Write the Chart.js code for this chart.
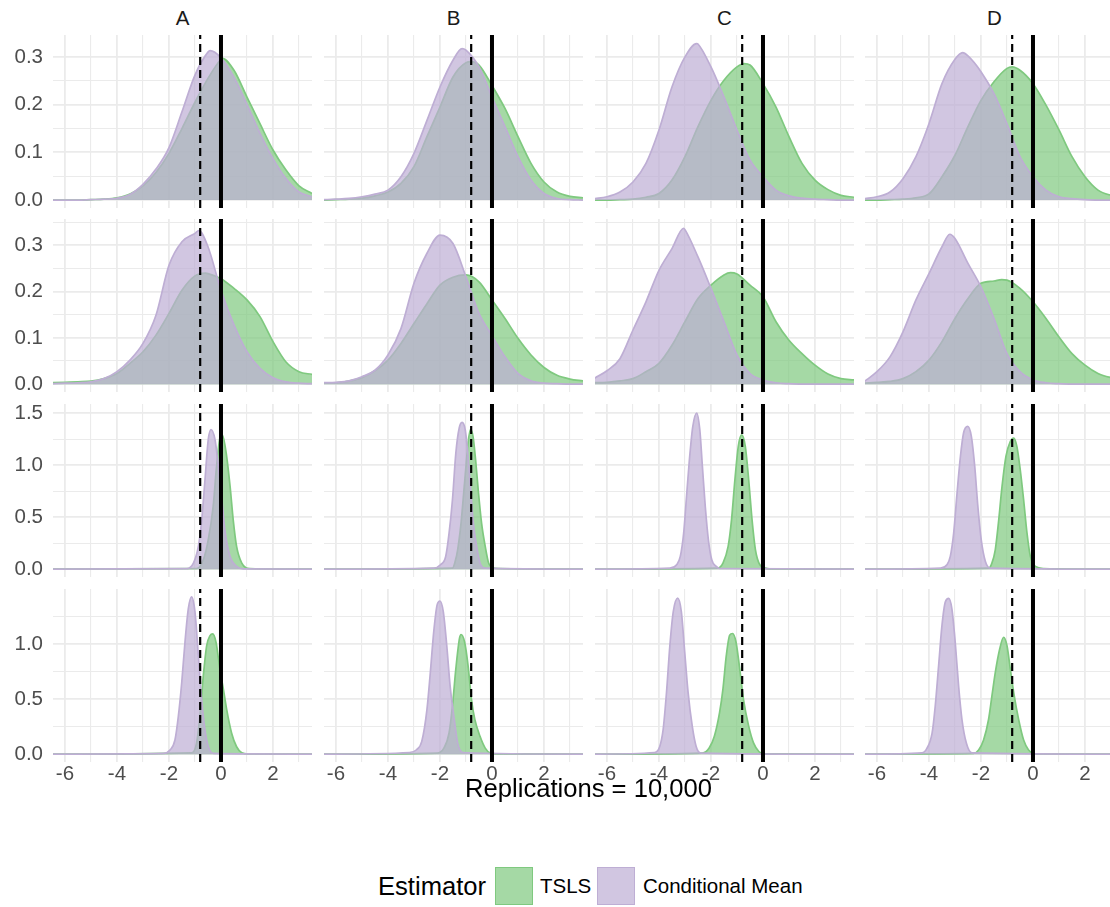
<!DOCTYPE html>
<html>
<head>
<meta charset="utf-8">
<script src="https://cdn.jsdelivr.net/npm/chart.js@4.4.1/dist/chart.umd.min.js"></script>
<style>
html,body{margin:0;padding:0;background:#fff;}
#wrap{position:relative;width:1110px;height:907px;overflow:hidden;background:#fff;font-family:"Liberation Sans",Arial,sans-serif;}
#wrap canvas{position:absolute;}
.strip{position:absolute;top:6px;width:259px;text-align:center;font-size:20.5px;line-height:24px;color:#1a1a1a;}
#xtitle{position:absolute;left:53px;width:1071px;top:773px;text-align:center;font-size:25.6px;line-height:30px;color:#000;}
.lg{position:absolute;white-space:nowrap;color:#000;}
.key{position:absolute;box-sizing:border-box;width:38px;height:38px;}
</style>
</head>
<body>
<div id="wrap"></div>
<script>
// ---------------- data ----------------
const panelNames = ['A', 'B', 'C', 'D'];
const seriesNames = ['TSLS', 'Conditional Mean'];
const axisTitle = 'Replications = 10,000';
const legendTitle = 'Estimator';

const xTickValues = [-6, -4, -2, 0, 2];
const xTickLabels = ['-6', '-4', '-2', '0', '2'];
const xGridValues = [-6, -5, -4, -3, -2, -1, 0, 1, 2, 3];

const yTickValues = [[0, 0.1, 0.2, 0.3], [0, 0.1, 0.2, 0.3], [0, 0.5, 1, 1.5], [0, 0.5, 1]];
const yTickLabels = [['0.0', '0.1', '0.2', '0.3'], ['0.0', '0.1', '0.2', '0.3'], ['0.0', '0.5', '1.0', '1.5'], ['0.0', '0.5', '1.0']];
const yGridValues = [
  [0, 0.05, 0.1, 0.15, 0.2, 0.25, 0.3],
  [0, 0.05, 0.1, 0.15, 0.2, 0.25, 0.3, 0.35],
  [0, 0.25, 0.5, 0.75, 1, 1.25, 1.5],
  [0, 0.25, 0.5, 0.75, 1, 1.25]
];

const dashedLineValue = -0.8;
const solidLineValue = 0;

// rows 1-2: densities on a shared x grid
const xWide = [-6.5, -6, -5.5, -5, -4.5, -4, -3.5, -3, -2.5, -2, -1.5, -1, -0.5, 0, 0.5, 1, 1.5, 2, 2.5, 3, 3.5];

const tslsRow1 = [
  [0, 0, 0, 0.001, 0.002, 0.005, 0.013, 0.03, 0.058, 0.098, 0.15, 0.205, 0.255, 0.295, 0.272, 0.216, 0.16, 0.105, 0.063, 0.03, 0.014],
  [0, 0.001, 0.002, 0.004, 0.009, 0.017, 0.035, 0.07, 0.133, 0.195, 0.258, 0.288, 0.283, 0.24, 0.192, 0.133, 0.077, 0.038, 0.017, 0.008, 0.005],
  [0, 0, 0.001, 0.002, 0.006, 0.014, 0.042, 0.091, 0.154, 0.209, 0.251, 0.279, 0.283, 0.244, 0.195, 0.133, 0.077, 0.042, 0.022, 0.01, 0.006],
  [0, 0, 0.001, 0.002, 0.005, 0.013, 0.049, 0.094, 0.154, 0.209, 0.248, 0.276, 0.272, 0.244, 0.199, 0.147, 0.091, 0.049, 0.021, 0.01, 0.005]
];
const cmRow1 = [
  [0, 0, 0, 0.001, 0.002, 0.004, 0.012, 0.033, 0.065, 0.11, 0.185, 0.262, 0.31, 0.298, 0.257, 0.2, 0.14, 0.087, 0.045, 0.017, 0.007],
  [0.001, 0.002, 0.0035, 0.007, 0.0126, 0.021, 0.049, 0.098, 0.167, 0.237, 0.293, 0.314, 0.279, 0.216, 0.154, 0.091, 0.042, 0.014, 0.0035, 0.001, 0],
  [0.003, 0.007, 0.017, 0.038, 0.077, 0.147, 0.237, 0.3, 0.327, 0.279, 0.216, 0.147, 0.084, 0.049, 0.021, 0.009, 0.004, 0.002, 0.001, 0, 0],
  [0.003, 0.007, 0.017, 0.045, 0.091, 0.16, 0.244, 0.295, 0.302, 0.269, 0.223, 0.16, 0.091, 0.049, 0.021, 0.007, 0.003, 0.001, 0, 0, 0]
];
const tslsRow2 = [
  [0.003, 0.004, 0.005, 0.0065, 0.012, 0.023, 0.045, 0.07, 0.106, 0.153, 0.203, 0.234, 0.239, 0.228, 0.207, 0.182, 0.146, 0.092, 0.048, 0.027, 0.021],
  [0.002, 0.003, 0.0065, 0.014, 0.029, 0.052, 0.088, 0.131, 0.174, 0.214, 0.231, 0.236, 0.221, 0.182, 0.142, 0.099, 0.063, 0.036, 0.019, 0.011, 0.007],
  [0.003, 0.004, 0.007, 0.012, 0.027, 0.045, 0.084, 0.135, 0.185, 0.214, 0.236, 0.238, 0.214, 0.189, 0.135, 0.095, 0.066, 0.041, 0.022, 0.012, 0.009],
  [0.002, 0.004, 0.006, 0.012, 0.027, 0.052, 0.092, 0.142, 0.185, 0.218, 0.223, 0.225, 0.207, 0.178, 0.142, 0.102, 0.066, 0.041, 0.023, 0.014, 0.009]
];
const cmRow2 = [
  [0.001, 0.002, 0.003, 0.005, 0.012, 0.027, 0.052, 0.088, 0.149, 0.257, 0.308, 0.326, 0.297, 0.203, 0.128, 0.07, 0.034, 0.014, 0.005, 0.002, 0.001],
  [0.003, 0.004, 0.007, 0.016, 0.03, 0.063, 0.12, 0.218, 0.283, 0.322, 0.304, 0.232, 0.153, 0.105, 0.059, 0.023, 0.007, 0.002, 0.001, 0, 0],
  [0.012, 0.029, 0.055, 0.117, 0.178, 0.246, 0.293, 0.334, 0.275, 0.207, 0.135, 0.063, 0.023, 0.009, 0.003, 0.001, 0, 0, 0, 0, 0],
  [0.005, 0.027, 0.059, 0.113, 0.182, 0.239, 0.297, 0.315, 0.261, 0.21, 0.142, 0.066, 0.027, 0.009, 0.003, 0.001, 0, 0, 0, 0, 0]
];

// peaks for rows 1-2 (x, density), one per panel A-D
const tslsPeaksRow1 = [[0.05, 0.297], [-0.8, 0.29], [-0.73, 0.286], [-0.8, 0.279]];
const cmPeaksRow1 = [[-0.42, 0.313], [-1.15, 0.3175], [-2.55, 0.328], [-2.7, 0.309]];
const tslsPeaksRow2 = [[-0.6, 0.24], [-1.0, 0.236], [-1.25, 0.241], [-1.2, 0.226]];
const cmPeaksRow2 = [[-0.85, 0.332], [-2.0, 0.322], [-3.05, 0.337], [-3.2, 0.324]];

// rows 3-4: narrow densities as [x, density] pairs
const tslsRow3 = [
  [[-0.94, 0.006], [-0.68, 0.09], [-0.49, 0.282], [-0.3, 0.603], [-0.17, 0.987], [-0.04, 1.26], [0.05, 1.29], [0.22, 1.08], [0.35, 0.795], [0.47, 0.474], [0.6, 0.218], [0.8, 0.058], [1.12, 0.006]],
  [[-1.52, 0.01], [-1.42, 0.07], [-1.32, 0.186], [-1.19, 0.442], [-1.055, 0.827], [-0.92, 1.21], [-0.83, 1.34], [-0.73, 1.276], [-0.63, 1.05], [-0.53, 0.763], [-0.4, 0.442], [-0.26, 0.218], [-0.13, 0.058], [0, 0.016], [0.26, 0.006]],
  [[-1.74, 0.01], [-1.54, 0.058], [-1.34, 0.218], [-1.21, 0.474], [-1.08, 0.859], [-0.95, 1.18], [-0.82, 1.29], [-0.68, 1.18], [-0.55, 0.859], [-0.42, 0.474], [-0.29, 0.186], [-0.12, 0.042], [0.1, 0.01], [0.24, 0.003]],
  [[-1.7, 0.01], [-1.58, 0.058], [-1.45, 0.186], [-1.33, 0.442], [-1.19, 0.795], [-1.04, 1.083], [-0.87, 1.228], [-0.74, 1.26], [-0.62, 1.18], [-0.49, 0.955], [-0.36, 0.667], [-0.23, 0.346], [-0.1, 0.122], [0.09, 0.026], [0.41, 0.006]]
];
const cmRow3 = [
  [[-1.32, 0.004], [-1.06, 0.058], [-0.87, 0.218], [-0.74, 0.474], [-0.615, 0.859], [-0.49, 1.244], [-0.385, 1.34], [-0.23, 1.244], [-0.1, 0.987], [0, 0.763], [0.15, 0.378], [0.35, 0.122], [0.6, 0.026], [0.86, 0.002]],
  [[-2.24, 0.01], [-1.98, 0.042], [-1.78, 0.122], [-1.65, 0.346], [-1.52, 0.667], [-1.39, 1.115], [-1.26, 1.356], [-1.15, 1.41], [-1.03, 1.34], [-0.92, 1.083], [-0.82, 0.763], [-0.73, 0.474], [-0.59, 0.218], [-0.46, 0.058], [-0.26, 0.01]],
  [[-3.58, 0.01], [-3.32, 0.042], [-3.18, 0.122], [-3.05, 0.346], [-2.95, 0.667], [-2.83, 1.05], [-2.7, 1.37], [-2.55, 1.5], [-2.43, 1.34], [-2.33, 0.987], [-2.22, 0.603], [-2.1, 0.282], [-1.97, 0.09], [-1.8, 0.026], [-1.67, 0.006]],
  [[-3.56, 0.01], [-3.31, 0.042], [-3.18, 0.122], [-3.05, 0.346], [-2.92, 0.73], [-2.79, 1.083], [-2.67, 1.308], [-2.51, 1.372], [-2.37, 1.276], [-2.24, 0.987], [-2.12, 0.603], [-1.99, 0.282], [-1.83, 0.074], [-1.64, 0.01]]
];
const tslsRow4 = [
  [[-1.13, 0.012], [-0.94, 0.098], [-0.81, 0.343], [-0.68, 0.71], [-0.55, 0.985], [-0.42, 1.076], [-0.32, 1.092], [-0.19, 1.015], [-0.04, 0.77], [0.115, 0.557], [0.22, 0.404], [0.41, 0.19], [0.6, 0.067], [0.8, 0.012], [1.05, 0.001]],
  [[-2.11, 0.01], [-1.85, 0.055], [-1.65, 0.193], [-1.52, 0.437], [-1.39, 0.774], [-1.25, 1.05], [-1.19, 1.086], [-1.055, 1.02], [-0.92, 0.804], [-0.79, 0.498], [-0.66, 0.315], [-0.46, 0.162], [-0.26, 0.055], [-0.07, 0.01], [0.13, 0.003]],
  [[-2.33, 0.01], [-2.07, 0.055], [-1.87, 0.162], [-1.67, 0.376], [-1.54, 0.59], [-1.41, 0.896], [-1.28, 1.08], [-1.17, 1.095], [-1.04, 1.02], [-0.91, 0.804], [-0.75, 0.498], [-0.55, 0.254], [-0.36, 0.1], [-0.16, 0.024], [0.04, 0.003]],
  [[-2.28, 0.006], [-2.09, 0.037], [-1.9, 0.128], [-1.71, 0.312], [-1.58, 0.526], [-1.45, 0.74], [-1.28, 0.954], [-1.13, 1.061], [-1.0, 0.985], [-0.87, 0.77], [-0.74, 0.557], [-0.55, 0.312], [-0.36, 0.128], [-0.17, 0.037], [0.03, 0.006], [0.35, 0.001]]
];
const cmRow4 = [
  [[-2.22, 0.006], [-1.96, 0.037], [-1.77, 0.128], [-1.64, 0.343], [-1.51, 0.648], [-1.385, 1.015], [-1.256, 1.32], [-1.13, 1.428], [-1.0, 1.29], [-0.87, 0.893], [-0.744, 0.495], [-0.615, 0.22], [-0.487, 0.067], [-0.295, 0.006]],
  [[-3.17, 0.015], [-2.9, 0.04], [-2.7, 0.116], [-2.5, 0.407], [-2.37, 0.743], [-2.24, 1.11], [-2.11, 1.355], [-2.0, 1.39], [-1.87, 1.29], [-1.74, 0.988], [-1.61, 0.62], [-1.45, 0.315], [-1.32, 0.1], [-1.12, 0.015]],
  [[-4.17, 0.015], [-3.97, 0.07], [-3.84, 0.223], [-3.71, 0.56], [-3.58, 0.988], [-3.45, 1.294], [-3.28, 1.416], [-3.14, 1.294], [-3.01, 0.927], [-2.88, 0.56], [-2.72, 0.254], [-2.57, 0.07], [-2.39, 0.01]],
  [[-4.27, 0.012], [-4.08, 0.052], [-3.88, 0.19], [-3.76, 0.434], [-3.63, 0.8], [-3.5, 1.168], [-3.37, 1.382], [-3.24, 1.413], [-3.12, 1.32], [-2.99, 1.015], [-2.86, 0.618], [-2.73, 0.312], [-2.56, 0.098], [-2.35, 0.012]]
];

// ---------------- layout & style ----------------
const X_MIN = -6.46, X_MAX = 3.5;
const Y_RANGES = [[-0.0165, 0.3459], [-0.017, 0.357], [-0.0756, 1.587], [-0.0714, 1.499]];
const PANEL_LEFT = [53, 324, 595, 865];
const PANEL_TOP = [35, 219, 404, 589];
const PANEL_W = 259, PANEL_H = 173;
const Y_AXIS_W = 53, X_AXIS_H = 30;

const GREEN = { fill: 'rgba(127,201,127,0.7)', line: '#7FC97F' };
const PURPLE = { fill: 'rgba(190,174,212,0.7)', line: '#BEAED4' };
const GRID = '#EBEBEB';
const FONT = '"Liberation Sans", Arial, sans-serif';

const near = (a, b) => Math.abs(a - b) < 1e-9;

function wideSeries(ys, peak) {
  const pts = xWide.map((x, i) => ({ x: x, y: ys[i] }))
    .filter(p => Math.abs(p.x - peak[0]) > 0.04);
  pts.push({ x: peak[0], y: peak[1] });
  pts.sort((a, b) => a.x - b.x);
  return pts;
}
function pairSeries(pairs) {
  const pts = pairs.map(p => ({ x: p[0], y: p[1] }));
  pts.unshift({ x: xWide[0], y: 0 });
  pts.push({ x: xWide[xWide.length - 1], y: 0 });
  return pts;
}
function seriesFor(r, c) {
  if (r === 0) return [wideSeries(tslsRow1[c], tslsPeaksRow1[c]), wideSeries(cmRow1[c], cmPeaksRow1[c])];
  if (r === 1) return [wideSeries(tslsRow2[c], tslsPeaksRow2[c]), wideSeries(cmRow2[c], cmPeaksRow2[c])];
  if (r === 2) return [pairSeries(tslsRow3[c]), pairSeries(cmRow3[c])];
  return [pairSeries(tslsRow4[c]), pairSeries(cmRow4[c])];
}

const refLinePlugin = {
  id: 'refLines',
  afterDatasetsDraw(chart) {
    const { ctx, chartArea: a, scales } = chart;
    ctx.save();
    ctx.beginPath();
    ctx.rect(a.left, a.top, a.right - a.left, a.bottom - a.top);
    ctx.clip();
    ctx.strokeStyle = '#000';
    let x = scales.x.getPixelForValue(dashedLineValue);
    ctx.lineWidth = 2.2;
    ctx.setLineDash([8, 5]);
    ctx.beginPath();
    ctx.moveTo(x, a.bottom);
    ctx.lineTo(x, a.top);
    ctx.stroke();
    x = scales.x.getPixelForValue(solidLineValue);
    ctx.setLineDash([]);
    ctx.lineWidth = 4;
    ctx.beginPath();
    ctx.moveTo(x, a.bottom);
    ctx.lineTo(x, a.top);
    ctx.stroke();
    ctx.restore();
  }
};

const wrap = document.getElementById('wrap');

function zeroPad(s) {
  s.paddingLeft = 0; s.paddingRight = 0; s.paddingTop = 0; s.paddingBottom = 0;
}

function makePanel(r, c) {
  const padL = c === 0 ? Y_AXIS_W : 0;
  const padB = r === 3 ? X_AXIS_H : 0;
  const cv = document.createElement('canvas');
  const w = PANEL_W + padL, h = PANEL_H + padB;
  cv.width = w; cv.height = h;
  cv.style.width = w + 'px'; cv.style.height = h + 'px';
  cv.style.left = (PANEL_LEFT[c] - padL) + 'px';
  cv.style.top = PANEL_TOP[r] + 'px';
  wrap.appendChild(cv);
  const [ts, cm] = seriesFor(r, c);
  const common = { fill: 'origin', pointRadius: 0, borderWidth: 1.7, cubicInterpolationMode: 'monotone', clip: 0 };
  new Chart(cv, {
    type: 'line',
    data: {
      datasets: [
        Object.assign({ label: seriesNames[1], data: cm, order: 0, backgroundColor: PURPLE.fill, borderColor: PURPLE.line }, common),
        Object.assign({ label: seriesNames[0], data: ts, order: 1, backgroundColor: GREEN.fill, borderColor: GREEN.line }, common)
      ]
    },
    options: {
      responsive: false, animation: false, devicePixelRatio: 1,
      layout: { padding: 0, autoPadding: false },
      plugins: { legend: { display: false }, tooltip: { enabled: false } },
      scales: {
        x: {
          type: 'linear', min: X_MIN, max: X_MAX,
          afterBuildTicks: s => { s.ticks = xGridValues.map(v => ({ value: v })); },
          afterFit: s => { s.height = padB; zeroPad(s); },
          border: { display: false },
          grid: { color: GRID, drawTicks: false, lineWidth: ctx => (xTickValues.some(v => near(v, ctx.tick.value)) ? 1.8 : 1.1) },
          ticks: {
            display: r === 3, autoSkip: false, maxRotation: 0, padding: 0,
            color: '#4D4D4D', font: { family: FONT, size: 20.5 },
            callback: v => { const i = xTickValues.findIndex(t => near(t, v)); return i >= 0 ? xTickLabels[i] : ''; }
          }
        },
        y: {
          type: 'linear', min: Y_RANGES[r][0], max: Y_RANGES[r][1],
          afterBuildTicks: s => { s.ticks = yGridValues[r].map(v => ({ value: v })); },
          afterFit: s => { s.width = padL; zeroPad(s); },
          border: { display: false },
          grid: { color: GRID, drawTicks: false, lineWidth: ctx => (yTickValues[r].some(v => near(v, ctx.tick.value)) ? 1.8 : 1.1) },
          ticks: {
            display: c === 0, autoSkip: false, padding: 10,
            color: '#4D4D4D', font: { family: FONT, size: 20.5 },
            callback: v => { const i = yTickValues[r].findIndex(t => near(t, v)); return i >= 0 ? yTickLabels[r][i] : ''; }
          }
        }
      }
    },
    plugins: [refLinePlugin]
  });
}

for (let r = 0; r < 4; r++) for (let c = 0; c < 4; c++) makePanel(r, c);

// strip labels
panelNames.forEach((n, c) => {
  const d = document.createElement('div');
  d.className = 'strip';
  d.style.left = PANEL_LEFT[c] + 'px';
  d.textContent = n;
  wrap.appendChild(d);
});

// axis title
const xt = document.createElement('div');
xt.id = 'xtitle';
xt.textContent = axisTitle;
wrap.appendChild(xt);

// legend
function addText(txt, left, size, top) {
  const d = document.createElement('div');
  d.className = 'lg';
  d.style.left = left + 'px';
  d.style.top = top + 'px';
  d.style.fontSize = size + 'px';
  d.style.lineHeight = '38px';
  d.textContent = txt;
  wrap.appendChild(d);
}
function addKey(left, col) {
  const d = document.createElement('div');
  d.className = 'key';
  d.style.left = left + 'px';
  d.style.top = '867px';
  d.style.background = col.fill;
  d.style.border = '1.5px solid ' + col.line;
  wrap.appendChild(d);
}
addText(legendTitle, 378, 25.6, 867);
addKey(495, GREEN);
addText(seriesNames[0], 540, 20.5, 867);
addKey(597, PURPLE);
addText(seriesNames[1], 643, 20.5, 867);
</script>
</body>
</html>
